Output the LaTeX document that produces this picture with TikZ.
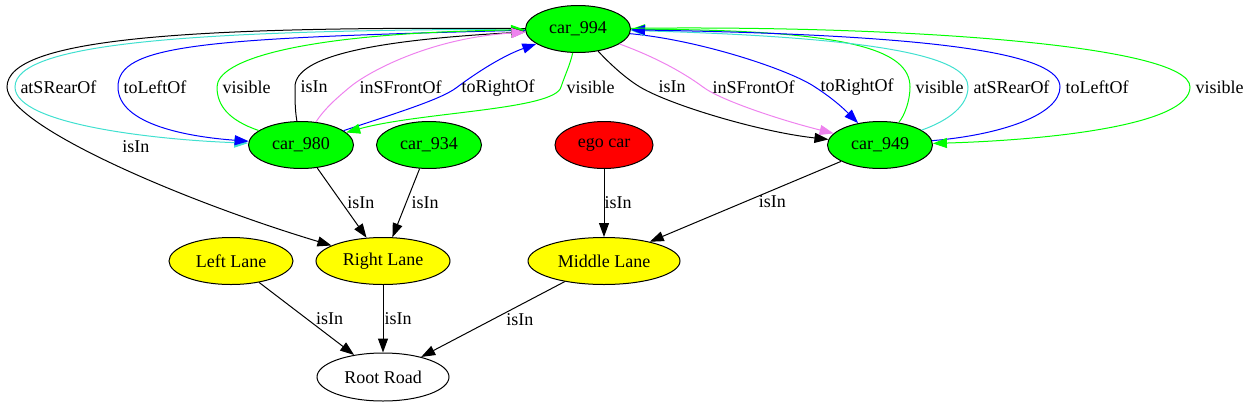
\documentclass[tikz,border=0pt]{standalone}
\usepackage{fontspec}
\setmainfont{Liberation Serif}
\usetikzlibrary{shapes.geometric,arrows.meta}
\definecolor{gvgreen}{HTML}{00FF00}
\definecolor{gvblue}{HTML}{0000FF}
\definecolor{gvcyan}{HTML}{40E0D0}
\definecolor{gvviolet}{HTML}{EE82EE}
\definecolor{gvred}{HTML}{FF0000}
\definecolor{gvyellow}{HTML}{FFFF00}
\tikzset{
  obj/.style={draw, ellipse, inner sep=0pt, minimum height=47pt, line width=1pt},
  car/.style={obj, fill=gvgreen, minimum width=105pt},
  lane/.style={obj, fill=gvyellow},
  rel/.style={-{Triangle[length=14pt,width=10pt]}, line width=1pt},
  lbl/.style={right, inner sep=5pt, text=black},
}

\begin{document}
\begin{tikzpicture}[x=1pt, y=-1pt, font=\fontsize{18}{21}\selectfont]
\useasboundingbox (0,0) rectangle (1247,407);
\node[car] (car-994) at (578,29) {car\_994};
\node[car] (car-980) at (301,145) {car\_980};
\node[car] (car-934) at (429,145) {car\_934};
\node[obj, fill=gvred, minimum width=98pt] (ego) at (604,145) {ego car};
\node[car] (car-949) at (880,145) {car\_949};
\node[lane, minimum width=124pt] (lane-left) at (231,261) {Left Lane};
\node[lane, minimum width=134pt] (lane-right) at (383,261) {Right Lane};
\node[lane, minimum width=152pt] (lane-middle) at (604,261) {Middle Lane};
\node[obj, minimum width=132pt, minimum height=48pt] (road) at (383,377) {Root Road};

\draw[rel, gvcyan] (car-994) .. controls (200,30) and (15,42) .. (15,87) node[lbl] {atSRearOf} .. controls (15,125) and (160,140) .. (car-980);
\draw[rel] (car-994) .. controls (190,26) and (7,38) .. (7,87) .. controls (7,125) and (180,200) .. node[pos=0.5, above right, xshift=6pt, yshift=7pt] {isIn} (lane-right);
\draw[rel, gvblue] (car-994) .. controls (200,38) and (118,45) .. (118,87) node[lbl] {toLeftOf} .. controls (118,125) and (190,137) .. (car-980);
\draw[rel, gvgreen] (car-980) .. controls (228,120) and (217,105) .. (217,87) node[lbl] {visible} .. controls (217,60) and (300,33) .. (car-994);
\draw[rel] (car-980) .. controls (295,110) and (295,100) .. (295,87) node[lbl] {isIn} .. controls (295,55) and (380,40) .. (car-994);
\draw[rel, gvviolet] (car-980) .. controls (325,108) and (338,97) .. (350,87) node[lbl, xshift=4pt] {inSFrontOf} .. controls (368,72) and (430,38) .. (car-994);
\draw[rel, gvblue] (car-980) .. controls (390,115) and (440,100) .. (456,88) node[lbl] {toRightOf} .. controls (480,70) and (505,55) .. (car-994);
\draw[rel, gvgreen] (car-994) .. controls (570,65) and (565,75) .. (561,87) node[lbl] {visible} .. controls (555,110) and (420,112) .. (car-980);

\draw[rel] (car-994) .. controls (608,62) and (625,78) .. (640,87) node[lbl, xshift=13pt] {isIn} .. controls (670,105) and (760,132) .. (car-949);
\draw[rel, gvviolet] (car-994) .. controls (650,55) and (680,70) .. (703,87) node[lbl, xshift=4pt] {inSFrontOf} .. controls (720,100) and (780,120) .. (car-949);
\draw[rel, gvblue] (car-994) .. controls (700,40) and (790,70) .. (815,87) node[lbl] {toRightOf} .. controls (835,100) and (845,110) .. (car-949);
\draw[rel, gvgreen] (car-949) .. controls (905,115) and (910,100) .. (910,87) node[lbl] {visible} .. controls (910,50) and (850,30) .. (car-994);
\draw[rel, gvcyan] (car-949) .. controls (950,120) and (968,105) .. (968,87) node[lbl] {atSRearOf} .. controls (968,60) and (900,38) .. (car-994);
\draw[rel, gvblue] (car-949) .. controls (1000,135) and (1060,115) .. (1060,87) node[lbl] {toLeftOf} .. controls (1060,55) and (950,35) .. (car-994);
\draw[rel, gvgreen] (car-994) .. controls (900,25) and (1190,45) .. (1190,87) node[lbl] {visible} .. controls (1190,125) and (1050,140) .. (car-949);

\draw[rel] (car-980) -- node[lbl] {isIn} (lane-right);
\draw[rel] (car-934) -- node[lbl] {isIn} (lane-right);
\draw[rel] (ego) -- node[lbl, inner sep=0pt] {isIn} (lane-middle);
\draw[rel] (car-949) -- node[lbl, xshift=8pt] {isIn} (lane-middle);
\draw[rel] (lane-left) -- node[lbl, xshift=4pt] {isIn} (road);
\draw[rel] (lane-right) -- node[lbl, inner sep=1pt] {isIn} (road);
\draw[rel] (lane-middle) -- node[lbl, xshift=8pt] {isIn} (road);
\end{tikzpicture}
\end{document}
